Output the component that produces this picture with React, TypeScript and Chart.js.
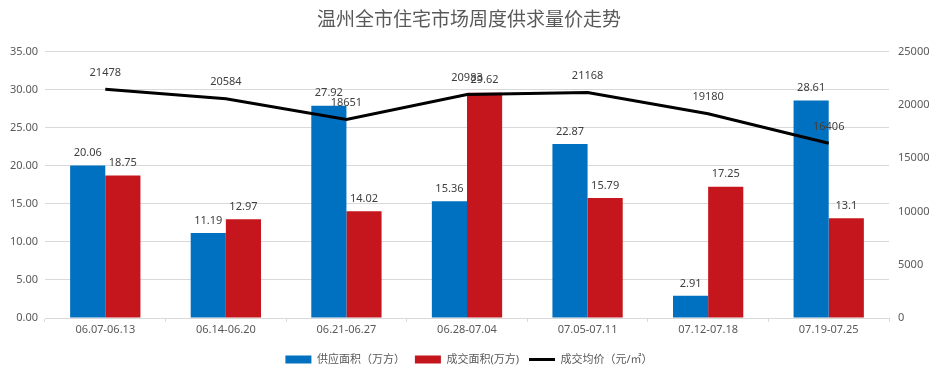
import React, { useEffect, useRef } from "react";
import { Chart, registerables } from "chart.js";

Chart.register(...registerables);

const categories = ["06.07-06.13", "06.14-06.20", "06.21-06.27", "06.28-07.04", "07.05-07.11", "07.12-07.18", "07.19-07.25"];
const supplyArea = [20.06, 11.19, 27.92, 15.36, 22.87, 2.91, 28.61];
const dealArea = [18.75, 12.97, 14.02, 29.62, 15.79, 17.25, 13.1];
const avgPrice = [21478, 20584, 18651, 20983, 21168, 19180, 16406];
const seriesNames = ["供应面积（万方）", "成交面积(万方)", "成交均价（元/㎡）"];
const titleText = "温州全市住宅市场周度供求量价走势";

const FONT = '"Noto Sans", "Noto Sans CJK SC", sans-serif';

const labelPlugin = {
  id: "valueLabels",
  afterDatasetsDraw(chart: any) {
    const ctx = chart.ctx;
    ctx.save();
    ctx.font = `11px ${FONT}`;
    ctx.fillStyle = "#404040";
    ctx.textAlign = "center";
    ctx.textBaseline = "bottom";
    chart.data.datasets.forEach((ds: any, i: number) => {
      const meta = chart.getDatasetMeta(i);
      meta.data.forEach((el: any, j: number) => {
        const off = ds.type === "line" ? 11 : 7;
        ctx.fillText(String(ds.data[j]), el.x, el.y - off);
      });
    });
    ctx.restore();
  },
};

export default function App() {
  const ref = useRef<HTMLCanvasElement>(null);
  useEffect(() => {
    document.body.style.margin = "0";
    const chart = new Chart(ref.current as HTMLCanvasElement, {
      type: "bar",
      data: {
        labels: categories,
        datasets: [
          {
            type: "bar",
            label: seriesNames[0],
            data: supplyArea,
            backgroundColor: "#0070C0",
            borderWidth: 0,
            yAxisID: "y",
            order: 1,
            categoryPercentage: 0.583,
            barPercentage: 1,
          } as any,
          {
            type: "bar",
            label: seriesNames[1],
            data: dealArea,
            backgroundColor: "#C5161D",
            borderWidth: 0,
            yAxisID: "y",
            order: 1,
            categoryPercentage: 0.583,
            barPercentage: 1,
          } as any,
          {
            type: "line",
            label: seriesNames[2],
            data: avgPrice,
            borderColor: "#000000",
            backgroundColor: "#000000",
            borderWidth: 3,
            pointRadius: 0,
            tension: 0,
            yAxisID: "y1",
            order: 0,
          } as any,
        ],
      },
      options: {
        responsive: false,
        animation: false,
        layout: { padding: { left: 0, right: 0, top: 0, bottom: 5 } },
        plugins: {
          title: {
            display: true,
            text: titleText,
            color: "#595959",
            font: { family: FONT, size: 19, weight: "normal" },
            padding: { top: 9, bottom: 20 },
          },
          legend: {
            position: "bottom",
            labels: {
              color: "#595959",
              font: { family: FONT, size: 11 },
              usePointStyle: true,
              pointStyleWidth: 26,
              boxHeight: 8,
              padding: 10,
              sort: (a: any, b: any) => a.datasetIndex - b.datasetIndex,
              generateLabels: (chart: any) => {
                const items = Chart.defaults.plugins.legend.labels.generateLabels(chart);
                return items.map((it: any) => {
                  const ds = chart.data.datasets[it.datasetIndex];
                  if (ds.type === "line") {
                    return { ...it, pointStyle: "line", lineWidth: 3, strokeStyle: "#000000" };
                  }
                  return { ...it, pointStyle: "rect", lineWidth: 0 };
                });
              },
            },
          },
          tooltip: { enabled: false },
        },
        scales: {
          x: {
            grid: {
              display: true,
              drawOnChartArea: false,
              drawTicks: true,
              tickLength: 4,
              color: "#d9d9d9",
              offset: true,
            },
            border: { display: true, color: "#d9d9d9" },
            ticks: { color: "#595959", font: { family: FONT, size: 11 }, padding: 1, maxRotation: 0 },
            afterFit: (s: any) => {
              s.height = 26;
            },
          },
          y: {
            position: "left",
            min: 0,
            max: 35,
            grid: { color: "#d9d9d9", drawTicks: false },
            border: { display: false },
            ticks: {
              stepSize: 5,
              padding: 7,
              color: "#595959",
              font: { family: FONT, size: 11 },
              callback: (v: any) => Number(v).toFixed(2),
            },
            afterFit: (s: any) => {
              s.width = 45;
            },
          },
          y1: {
            position: "right",
            min: 0,
            max: 25000,
            grid: { display: false, drawTicks: false },
            border: { display: false },
            ticks: {
              stepSize: 5000,
              padding: 9,
              color: "#595959",
              font: { family: FONT, size: 11 },
              callback: (v: any) => String(v),
            },
            afterFit: (s: any) => {
              s.width = 49;
            },
          },
        },
      },
      plugins: [labelPlugin],
    });
    return () => chart.destroy();
  }, []);
  return (
    <div style={{ width: 938, height: 380 }}>
      <canvas ref={ref} width={938} height={380} style={{ display: "block" }} />
    </div>
  );
}
